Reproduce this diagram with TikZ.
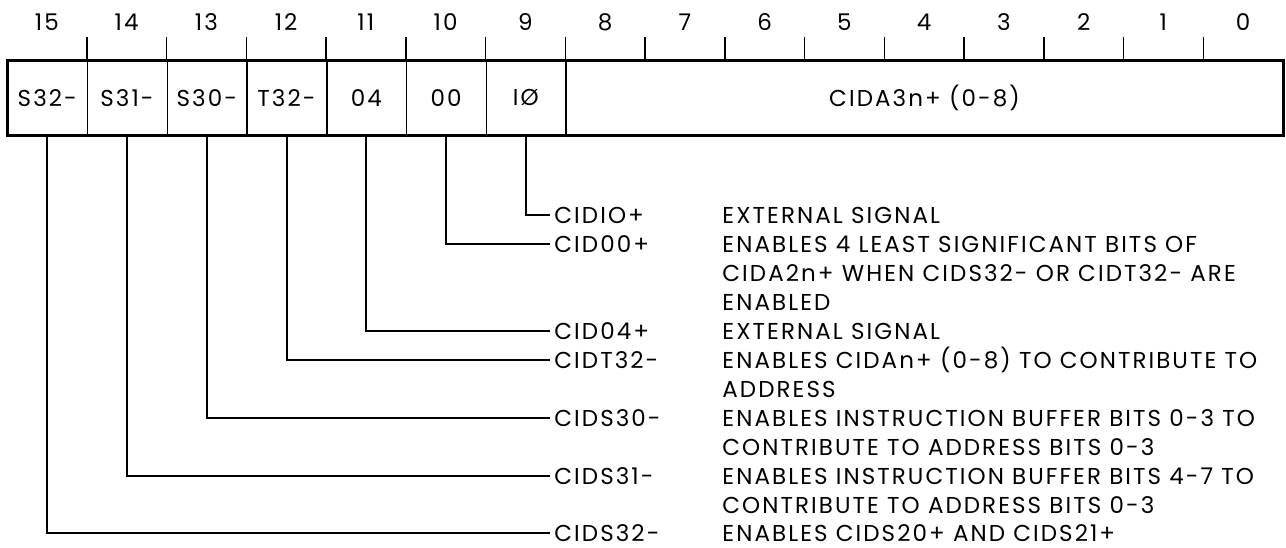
\documentclass[tikz,border=0pt]{standalone}
\usepackage{fontspec}
\setmainfont{Poppins}[LetterSpace=9]
\usetikzlibrary{positioning,calc}

% lines of a description, first line on the node's baseline
\newcommand{\desclines}[1]{\begin{tabular}[t]{@{}l@{}}#1\end{tabular}}

\begin{document}
\begin{tikzpicture}[x=0.5pt, y=-0.5pt,
  every node/.style={font=\fontsize{11.5}{14.5}\selectfont},
  cell/.style={minimum width=39.875pt, minimum height=37.5pt, inner sep=0pt, anchor=north west},
  sig/.style={anchor=west, inner xsep=2pt, inner ysep=0pt},
  desc/.style={anchor=base west, inner sep=0pt}]
\useasboundingbox (0,0) rectangle (1286,547);

% bit numbers and ticks
\foreach \b in {0,...,15}
  \node (n\b) at ({7+79.75*(15.5-\b)},22) {\b};
\foreach \k in {1,...,15}
  \draw[line width=0.75pt] ({7+79.75*\k},37) -- ({7+79.75*\k},60);

% register cells
\foreach \b/\t in {15/S32-,14/S31-,13/S30-,12/T32-,11/04,10/00,9/IØ}
  \node[cell] (c\b) at ({7+79.75*(15-\b)},60) {\t};
\node[cell, minimum width=358.875pt] (ca) at (565.25,60) {CIDA3n+ (0-8)};
\foreach \b in {15,...,9}
  \draw[line width=0.75pt] (c\b.north east) -- (c\b.south east);
\draw[line width=1.5pt] (c15.north west) rectangle (ca.south east);

% signal names
\node[sig] (s9) at (550,215) {CIDIO+};
\node[sig] (s10) at (550,244) {CID00+};
\node[sig] (s11) at (550,331) {CID04+};
\node[sig] (s12) at (550,360) {CIDT32-};
\node[sig] (s13) at (550,418) {CIDS30-};
\node[sig] (s14) at (550,476) {CIDS31-};
\node[sig] (s15) at (550,533) {CIDS32-};

% leads from the bits
\foreach \b in {9,...,15}
  \draw[line width=1pt] (c\b.south) |- (s\b.west);

% descriptions
\coordinate (dx) at (722,0);
\node[desc] (d9) at (s9.base -| dx) {EXTERNAL SIGNAL};
\node[desc] (d10) at (s10.base -| dx) {\desclines{ENABLES 4 LEAST SIGNIFICANT BITS OF\\
  CIDA2n+ WHEN CIDS32- OR CIDT32- ARE\\ ENABLED}};
\node[desc] (d11) at (s11.base -| dx) {EXTERNAL SIGNAL};
\node[desc] (d12) at (s12.base -| dx) {\desclines{ENABLES CIDAn+ (0-8) TO CONTRIBUTE TO\\ ADDRESS}};
\node[desc] (d13) at (s13.base -| dx) {\desclines{ENABLES INSTRUCTION BUFFER BITS 0-3 TO\\
  CONTRIBUTE TO ADDRESS BITS 0-3}};
\node[desc] (d14) at (s14.base -| dx) {\desclines{ENABLES INSTRUCTION BUFFER BITS 4-7 TO\\
  CONTRIBUTE TO ADDRESS BITS 0-3}};
\node[desc] (d15) at (s15.base -| dx) {ENABLES CIDS20+ AND CIDS21+};
\end{tikzpicture}
\end{document}
